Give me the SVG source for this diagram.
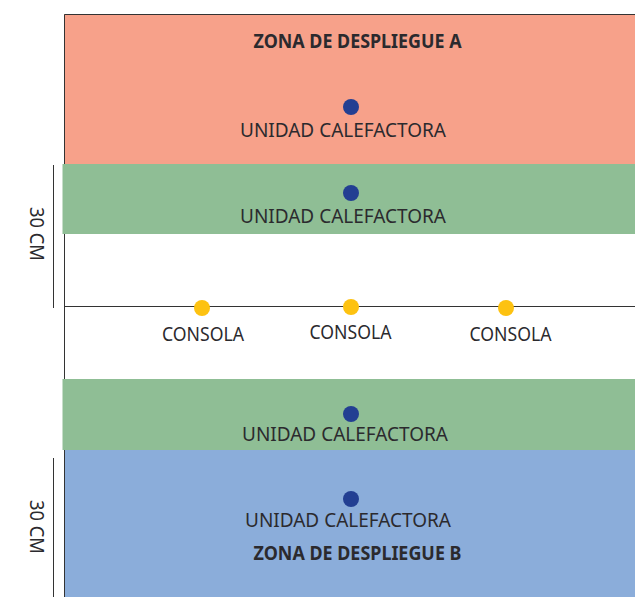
<svg xmlns="http://www.w3.org/2000/svg" width="635" height="597" viewBox="0 0 635 597">
<style>
text{font-family:"Noto Sans","Open Sans","Liberation Sans",sans-serif;fill:#2b2a2e;text-anchor:middle}
.l{font-size:20px}
.t{font-size:19.500px;font-weight:700}
.b{fill:#233f92}
.y{fill:#fdc211}
.ln{stroke:#333;stroke-width:1;fill:none}
</style>
<rect width="635" height="597" fill="#fff"/>
<g id="zona-a"><rect x="64" y="14" width="571" height="150" fill="#f7a18a"/></g>
<g id="zona-b"><rect x="64" y="450" width="571" height="147" fill="#8badda"/></g>
<g id="lines"><path class="ln" d="M635 14.500H64.500V597M64 306.500H635M53.500 165V308M53.500 458V597"/></g>
<g id="verde-1"><rect x="62.500" y="164" width="572.500" height="70" fill="#8fbe95"/></g>
<g id="verde-2"><rect x="62.500" y="379" width="572.500" height="71" fill="#8fbe95"/></g>
<g id="titulo-a"><text class="t" x="357.500" y="47.500" textLength="208" lengthAdjust="spacingAndGlyphs">ZONA DE DESPLIEGUE A</text></g>
<g id="titulo-b"><text class="t" x="357.500" y="560" textLength="208" lengthAdjust="spacingAndGlyphs">ZONA DE DESPLIEGUE B</text></g>
<g id="u1"><circle class="b" cx="351" cy="107" r="8"/><text class="l" x="343" y="137" textLength="206" lengthAdjust="spacingAndGlyphs">UNIDAD CALEFACTORA</text></g>
<g id="u2"><circle class="b" cx="351" cy="193" r="8"/><text class="l" x="343" y="222.500" textLength="206" lengthAdjust="spacingAndGlyphs">UNIDAD CALEFACTORA</text></g>
<g id="u3"><circle class="b" cx="351" cy="414" r="8"/><text class="l" x="345" y="441" textLength="206" lengthAdjust="spacingAndGlyphs">UNIDAD CALEFACTORA</text></g>
<g id="u4"><circle class="b" cx="351" cy="499" r="8"/><text class="l" x="348" y="526.500" textLength="206" lengthAdjust="spacingAndGlyphs">UNIDAD CALEFACTORA</text></g>
<g id="c1"><circle class="y" cx="202" cy="308" r="8"/><text class="l" x="203" y="341" textLength="82" lengthAdjust="spacingAndGlyphs">CONSOLA</text></g>
<g id="c2"><circle class="y" cx="351" cy="307" r="8"/><text class="l" x="350.500" y="339" textLength="82" lengthAdjust="spacingAndGlyphs">CONSOLA</text></g>
<g id="c3"><circle class="y" cx="506" cy="308" r="8"/><text class="l" x="510.500" y="341" textLength="82" lengthAdjust="spacingAndGlyphs">CONSOLA</text></g>
<g id="d1"><text class="l" transform="translate(29.500 234) rotate(90)" textLength="54" lengthAdjust="spacingAndGlyphs">30 CM</text></g>
<g id="d2"><text class="l" transform="translate(29.500 527) rotate(90)" textLength="54" lengthAdjust="spacingAndGlyphs">30 CM</text></g>
</svg>
